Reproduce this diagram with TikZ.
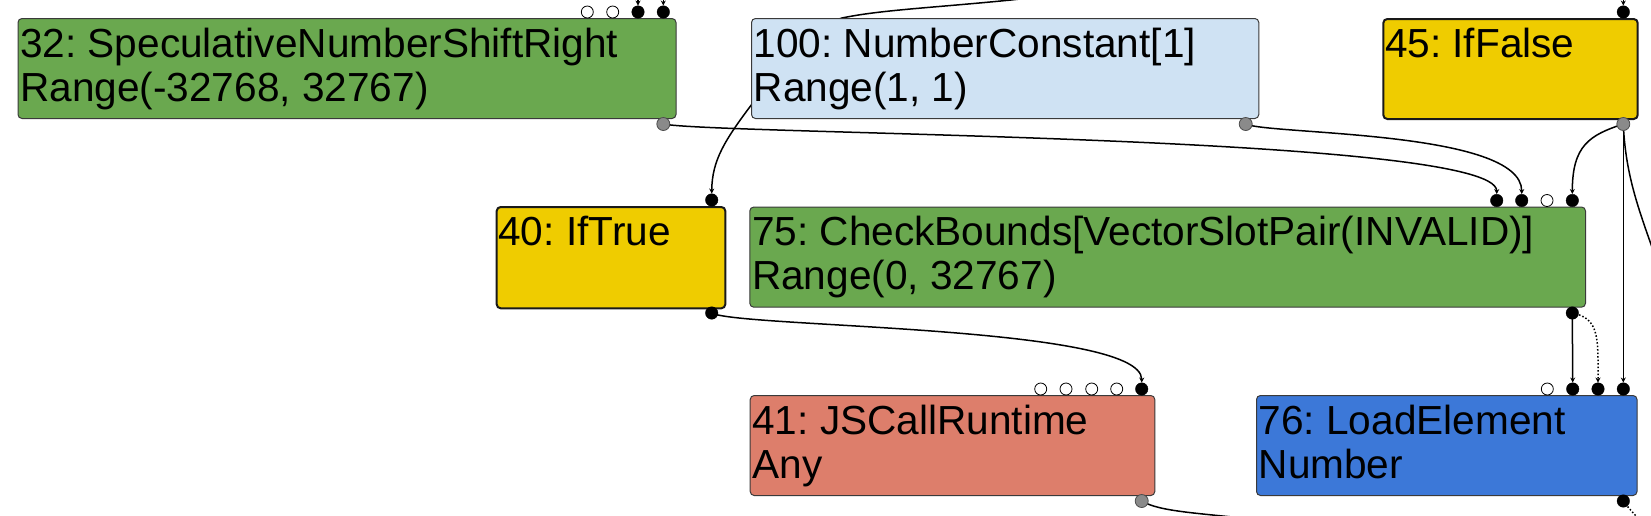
\documentclass[tikz,border=0pt]{standalone}
\usepackage{fontspec}
\setmainfont{Liberation Sans}
\usetikzlibrary{arrows.meta,calc}
\pgfdeclarelayer{edgelayer}
\pgfsetlayers{edgelayer,main}

\definecolor{cgreen}{HTML}{6AA84F}
\definecolor{clblue}{HTML}{CFE2F3}
\definecolor{cyellow}{HTML}{EFCC00}
\definecolor{csalmon}{HTML}{DD7E6B}
\definecolor{cdblue}{HTML}{3C78D8}
\definecolor{cgray}{HTML}{8A8A8A}
\definecolor{cborder}{HTML}{3A3A3A}

\tikzset{
 box/.style={draw=cborder, line width=1pt, rounded corners=4pt, inner sep=0pt, anchor=north west},
 ctrlbox/.style={box, draw=black!90, line width=2pt},
 lbl/.style={anchor=base west, inner sep=0pt, font=\fontsize{40.6}{44}\selectfont\frenchspacing},
 pfill/.style={circle, fill=black, draw=black, inner sep=0pt, minimum size=12.5pt},
 popen/.style={circle, fill=white, draw=black, line width=0.8pt, inner sep=0pt, minimum size=12pt},
 pout/.style={circle, fill=cgray, draw=black!70, line width=0.8pt, inner sep=0pt, minimum size=13pt},
 edge/.style={line width=1.5pt, -{Stealth[length=5pt,width=5pt]}},
 oedge/.style={line width=1.5pt},
 dotedge/.style={line width=1.5pt, dotted, -{Stealth[length=5pt,width=5pt]}},
 dotoedge/.style={line width=1.5pt, dotted}
}

\begin{document}
\frenchspacing
\begin{tikzpicture}[x=1pt,y=-1pt]
\useasboundingbox (0,0) rectangle (1651,515);

% nodes
\node[box, fill=cgreen, minimum width=658pt, minimum height=100pt] (n32) at (17.5,18) {};
\node[box, fill=clblue, minimum width=507.3pt, minimum height=100pt] (n100) at (751,18) {};
\node[ctrlbox, fill=cyellow, minimum width=254.4pt, minimum height=100pt] (n45) at (1382.3,18) {};
\node[ctrlbox, fill=cyellow, minimum width=228.6pt, minimum height=101.3pt] (n40) at (495.7,206) {};
\node[box, fill=cgreen, minimum width=835.7pt, minimum height=100.2pt] (n75) at (749.3,206.5) {};
\node[box, fill=csalmon, minimum width=404.6pt, minimum height=100pt] (n41) at (749.7,395) {};
\node[box, fill=cdblue, minimum width=380.5pt, minimum height=100pt] (n76) at (1256,395) {};

% labels
\node[lbl] (t32a) at ($(n32.north west)+(2.5,39.3)$) {32: SpeculativeNumberShiftRight};
\node[lbl] (t32b) at ($(n32.north west)+(2.5,83)$) {Range(-32768, 32767)};
\node[lbl] (t100a) at ($(n100.north west)+(2.5,39.3)$) {100: NumberConstant[1]};
\node[lbl] (t100b) at ($(n100.north west)+(2.5,83)$) {Range(1, 1)};
\node[lbl] (t45a) at ($(n45.north west)+(2.5,39.3)$) {45: IfFalse};
\node[lbl] (t40a) at ($(n40.north west)+(2.5,39.5)$) {40: IfTrue};
\node[lbl] (t75a) at ($(n75.north west)+(2.5,39.3)$) {75: CheckBounds[VectorSlotPair(INVALID)]};
\node[lbl] (t75b) at ($(n75.north west)+(2.5,83)$) {Range(0, 32767)};
\node[lbl] (t41a) at ($(n41.north west)+(2.5,39.3)$) {41: JSCallRuntime};
\node[lbl] (t41b) at ($(n41.north west)+(2.5,83)$) {Any};
\node[lbl] (t76a) at ($(n76.north west)+(2.5,39.3)$) {76: LoadElement};
\node[lbl] (t76b) at ($(n76.north west)+(2.5,83)$) {Number};

% ports
\node[popen] (n32i1) at (587.3,12) {};
\node[popen] (n32i2) at (612.7,12) {};
\node[pfill] (n32i3) at (638,12) {};
\node[pfill] (n32i4) at (663.3,12) {};
\node[pout] (n32o) at (663.3,124) {};

\node[pout] (n100o) at (1245.7,124) {};

\node[pfill] (n45i1) at (1623.3,12) {};
\node[pout] (n45o) at (1623.3,124) {};

\node[pfill] (n40i1) at (711.7,200) {};
\node[pfill] (n40o) at (711.7,313) {};

\node[pfill] (n75i1) at (1496.7,200.5) {};
\node[pfill] (n75i2) at (1521.7,200.5) {};
\node[popen] (n75i3) at (1547,200.5) {};
\node[pfill] (n75i4) at (1572.3,200.5) {};
\node[pfill] (n75o) at (1572.3,313) {};

\node[popen] (n41i1) at (1040.7,389) {};
\node[popen] (n41i2) at (1066,389) {};
\node[popen] (n41i3) at (1091.7,389) {};
\node[popen] (n41i4) at (1116.7,389) {};
\node[pfill] (n41i5) at (1141.7,389) {};
\node[pout] (n41o) at (1141.7,501) {};

\node[popen] (n76i1) at (1547.3,389) {};
\node[pfill] (n76i2) at (1572.7,389) {};
\node[pfill] (n76i3) at (1598,389) {};
\node[pfill] (n76i4) at (1623.3,389) {};
\node[pfill] (n76o) at (1623.3,501) {};

% free ends
\coordinate (s32a) at (638,-4);
\coordinate (s32b) at (663.3,-4);
\coordinate (s45) at (1623.3,-4);
\coordinate (x40) at (1110,-12);
\coordinate (x45) at (1670,300);
\coordinate (x41) at (1260,520);
\coordinate (x76) at (1645,525);

\begin{pgfonlayer}{edgelayer}
\draw[edge] (s32a) -- (n32i3.north);
\draw[edge] (s32b) -- (n32i4.north);
\draw[edge] (s45) -- (n45i1.north);
\draw[edge] (x40) .. controls (1060,-6) and (1030,-2) .. (1011,0)
   .. controls (930,8) and (880,10) .. (842,18)
   .. controls (800,30) and (770,80) .. (752,104)
   .. controls (725,140) and (712,160) .. (n40i1.north);
\draw[edge] (n32o.center) .. controls (720,135) and (1496.7,135) .. (n75i1.north);
\draw[edge] (n100o.center) .. controls (1270,135) and (1521.7,130) .. (n75i2.north);
\draw[edge] (n45o.center) .. controls (1590,135) and (1572.3,145) .. (n75i4.north);
\draw[edge] (n45o.center) -- (n76i4.north);
\draw[oedge] (n45o.center) .. controls (1626,190) and (1648,230) .. (x45);
\draw[edge] (n40o.center) .. controls (740,328) and (1141.7,325) .. (n41i5.north);
\draw[edge] (n75o.center) -- (n76i2.north);
\draw[dotedge] (n75o.center) .. controls (1600,318) and (1598,340) .. (n76i3.north);
\draw[oedge] (n41o.center) .. controls (1160,512) and (1200,513) .. (x41);
\draw[dotoedge] (n76o.center) .. controls (1630,510) and (1635,515) .. (x76);
\end{pgfonlayer}
\end{tikzpicture}
\end{document}
